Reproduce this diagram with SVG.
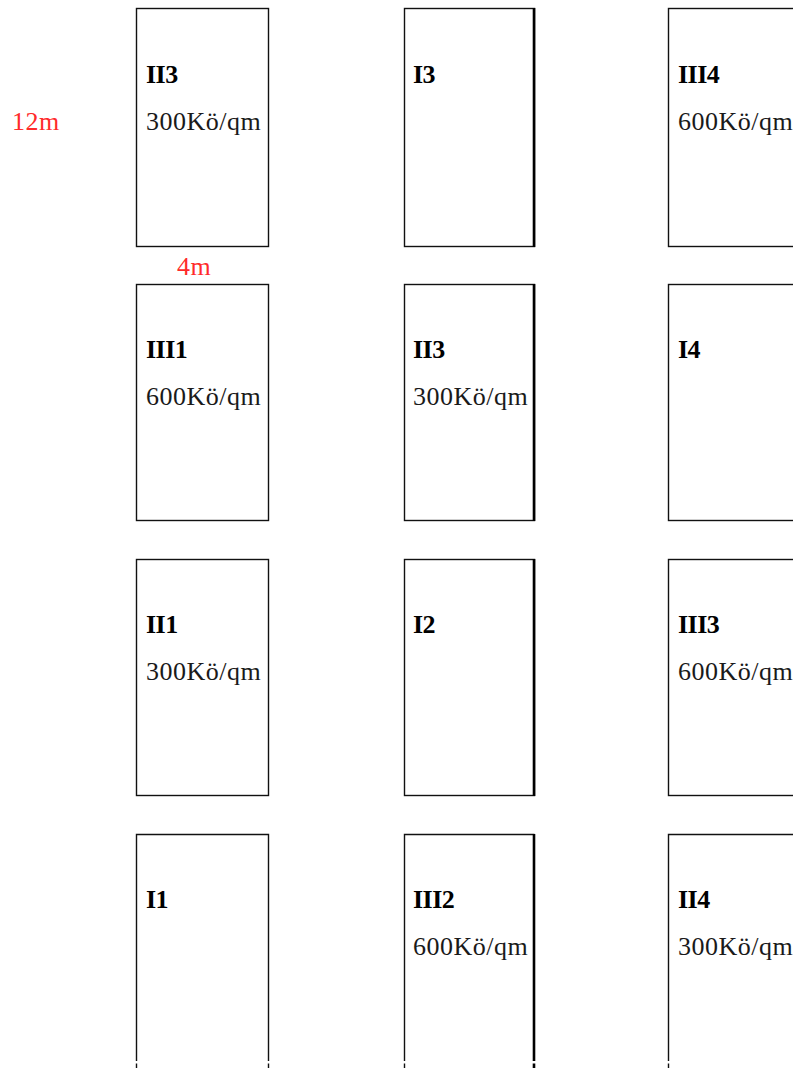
<svg xmlns="http://www.w3.org/2000/svg" width="793" height="1068" viewBox="0 0 793 1068">
<style>
.box{fill:#fff;stroke:#111;stroke-width:1.4}
.thick{stroke:#000;stroke-width:2.6;fill:none}
.t{font-family:"Liberation Serif","Times New Roman",serif;font-size:26px;font-weight:bold;fill:#000;letter-spacing:-0.5px}
.s{font-family:"Liberation Serif","Times New Roman",serif;font-size:26px;fill:#1a1a1a;letter-spacing:0.5px}
.r{font-family:"Liberation Serif","Times New Roman",serif;font-size:26px;fill:#ff2a2a;letter-spacing:0.5px}
</style>
<rect width="793" height="1068" fill="#fff"/>
<g id="dims">
<text class="r" x="12" y="130">12m</text>
<text class="r" x="177" y="275">4m</text>
</g>
<g id="r1c1"><rect class="box" x="136.5" y="8.5" width="132" height="238"/><text class="t" x="146" y="83">II3</text><text class="s" x="146" y="129.5">300Kö/qm</text></g>
<g id="r1c2"><rect class="box" x="404.5" y="8.5" width="130" height="238"/><line class="thick" x1="534" y1="8" x2="534" y2="247"/><text class="t" x="413" y="83">I3</text></g>
<g id="r1c3"><rect class="box" x="668.5" y="8.5" width="160" height="238"/><text class="t" x="678" y="83">III4</text><text class="s" x="678" y="129.5">600Kö/qm</text></g>

<g id="r2c1"><rect class="box" x="136.5" y="284.5" width="132" height="236"/><text class="t" x="146" y="358">III1</text><text class="s" x="146" y="404.5">600Kö/qm</text></g>
<g id="r2c2"><rect class="box" x="404.5" y="284.5" width="130" height="236"/><line class="thick" x1="534" y1="284" x2="534" y2="521"/><text class="t" x="413" y="358">II3</text><text class="s" x="413" y="404.5">300Kö/qm</text></g>
<g id="r2c3"><rect class="box" x="668.5" y="284.5" width="160" height="236"/><text class="t" x="678" y="358">I4</text></g>

<g id="r3c1"><rect class="box" x="136.5" y="559.5" width="132" height="236"/><text class="t" x="146" y="633">II1</text><text class="s" x="146" y="679.5">300Kö/qm</text></g>
<g id="r3c2"><rect class="box" x="404.5" y="559.5" width="130" height="236"/><line class="thick" x1="534" y1="559" x2="534" y2="796"/><text class="t" x="413" y="633">I2</text></g>
<g id="r3c3"><rect class="box" x="668.5" y="559.5" width="160" height="236"/><text class="t" x="678" y="633">III3</text><text class="s" x="678" y="679.5">600Kö/qm</text></g>

<g id="r4c1"><path class="box" d="M136.5 1061 V834.5 H268.5 V1061 M136.5 1063.5 V1068 M268.5 1063.5 V1068" fill="none"/><text class="t" x="146" y="908">I1</text></g>
<g id="r4c2"><path class="box" d="M404.5 1061 V834.5 H534.5 M404.5 1063.5 V1068" fill="none"/><path class="thick" d="M534 834 V1061 M534 1063.5 V1068"/><text class="t" x="413" y="908">III2</text><text class="s" x="413" y="954.5">600Kö/qm</text></g>
<g id="r4c3"><path class="box" d="M668.5 1061 V834.5 H800 M668.5 1063.5 V1068" fill="none"/><text class="t" x="678" y="908">II4</text><text class="s" x="678" y="954.5">300Kö/qm</text></g>
</svg>
